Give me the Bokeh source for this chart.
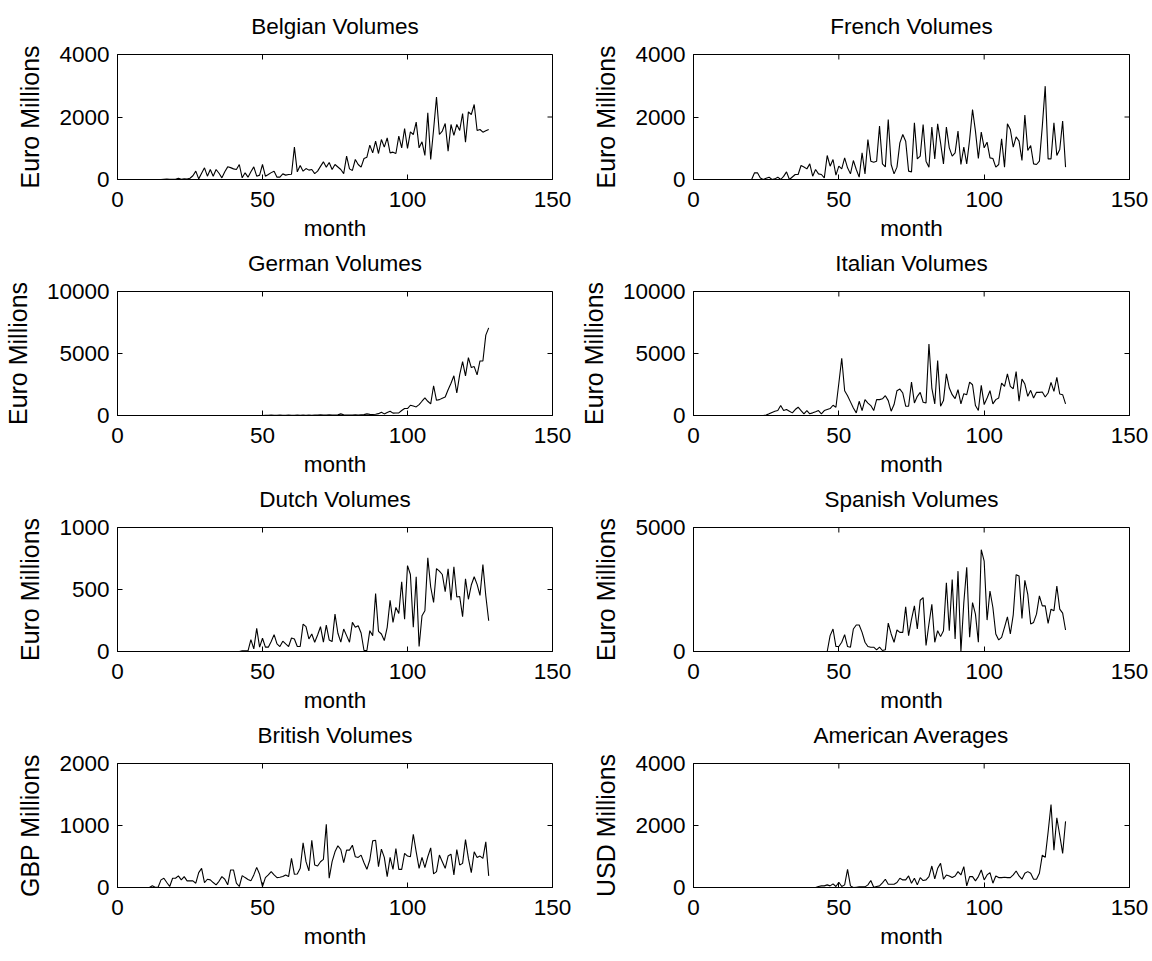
import math
from bokeh.plotting import figure
from bokeh.layouts import gridplot
from bokeh.models import Range1d, FixedTicker, LinearAxis
from bokeh.embed import file_html
from bokeh.resources import INLINE

# ---------------- data (monthly values, months 1..128) ----------------
belgian = [0,0,0,0,0,0,0,0,0,0,
           0,0,0,0,0,10,15,10,5,10,
           40,5,20,15,40,120,267,20,200,373,
           107,320,107,320,200,53,250,405,380,340,
           320,480,53,213,75,250,405,107,140,480,
           107,160,220,267,75,75,180,140,160,170,
           1035,245,448,267,350,300,320,190,267,420,
           565,395,545,320,480,400,320,190,747,340,
           290,640,480,395,672,715,1100,853,1227,832,
           1280,1035,1333,853,875,832,1387,1013,1632,995,
           1525,1440,1835,1013,1205,768,2133,640,1600,2635,
           1440,1550,1792,907,1760,1410,1760,1570,2112,1195,
           2165,2080,2400,1568,1600,1515,1560,1600]

french = [0,0,0,0,0,0,0,0,0,0,
          0,0,0,0,0,0,0,0,0,0,
          213,213,50,0,40,75,0,20,75,0,
          100,245,0,80,160,160,448,400,340,500,
          107,320,180,160,53,768,427,640,140,427,
          340,693,373,180,608,320,75,853,180,1280,
          587,555,587,1707,500,405,1920,480,180,395,
          1173,1440,1227,267,245,1813,660,747,1760,587,
          395,1675,660,1780,1173,500,1675,1013,747,853,
          1547,480,1035,500,1280,2240,1547,672,1515,1013,
          1195,693,672,395,480,1300,395,1780,1600,1035,
          1365,1227,608,2060,928,1088,500,480,587,1700,
          2987,660,660,1813,768,960,1867,395]

german = [0,0,0,0,0,0,0,0,0,0,
          0,0,0,0,0,0,0,0,0,0,
          0,0,0,0,0,0,0,0,0,0,
          0,0,0,0,0,0,0,0,0,0,
          0,0,0,0,0,0,0,0,0,0,
          20,10,30,10,20,30,15,10,30,20,
          15,40,20,30,25,40,20,30,30,50,
          30,40,60,30,40,50,130,60,40,30,
          40,50,40,60,70,130,90,80,100,150,
          267,130,250,347,190,200,213,400,560,560,
          827,760,693,880,1150,1413,1147,933,2400,1227,
          1280,1400,1493,2080,2600,3200,1813,3300,4347,3200,
          4667,3867,3947,3280,4400,4400,6480,7067]

italian = [0,0,0,0,0,0,0,0,0,0,
           0,0,0,0,0,0,0,0,0,0,
           0,0,0,0,30,133,250,347,400,800,
           400,480,347,213,480,667,400,133,400,133,
           213,300,400,133,400,480,560,827,667,2600,
           4613,2000,1600,1100,600,213,1147,400,1280,1000,
           800,400,1280,1280,1350,1600,1200,347,880,2000,
           2133,1813,747,747,2693,1013,1547,1867,1067,1013,
           5760,2213,933,4427,747,1200,3360,2213,1680,1360,
           2080,933,1760,1680,2693,2480,800,400,2427,880,
           1413,2000,933,1280,1413,2613,2347,3360,2347,2160,
           3547,1147,2933,2533,1547,2027,1413,1867,1867,1893,
           1493,1813,2667,1947,3067,1733,1680,933]

dutch = [0,0,0,0,0,0,0,0,0,0,
         0,0,0,0,0,0,0,0,0,0,
         0,0,0,0,0,0,0,0,0,0,
         0,0,0,0,0,0,0,0,0,0,
         0,0,5,5,5,96,21,187,35,107,
         35,35,80,136,61,40,83,61,40,109,
         101,40,40,221,200,101,141,75,133,200,
         75,213,93,80,301,147,75,181,128,75,
         235,195,208,149,8,8,168,128,467,163,
         141,88,195,413,235,355,307,563,261,693,
         621,195,603,40,288,328,755,520,395,669,
         648,621,483,667,413,683,440,443,280,587,
         421,536,603,541,453,701,450,248]

spanish = [0,0,0,0,0,0,0,0,0,0,
           0,0,0,0,0,0,0,0,0,0,
           0,0,0,0,0,0,0,0,0,0,
           0,0,0,0,0,0,0,0,0,0,
           0,0,0,0,0,0,640,907,200,200,
           373,680,200,173,907,1067,1067,773,373,200,
           173,173,67,173,40,67,1147,707,373,867,
           773,773,1800,640,1300,1840,907,2067,2173,240,
           1107,1907,373,840,600,840,2773,840,2907,507,
           3240,0,1973,3400,573,1973,1507,373,4107,3640,
           1267,2440,1773,707,467,573,973,1400,707,1480,
           3100,3040,1333,2867,2307,1107,1173,1507,2240,1840,
           1840,1133,1707,1640,2640,1707,1547,867]

british = [0,0,0,0,0,0,0,0,0,0,
           0,27,5,5,123,149,80,16,149,149,
           187,123,176,107,107,107,69,240,309,80,
           133,123,80,43,100,176,133,43,283,283,
           69,16,192,160,130,107,203,325,213,16,
           160,203,256,203,160,165,176,203,176,469,
           213,219,309,720,416,267,763,363,347,416,
           453,1019,149,416,576,672,613,400,603,603,
           683,496,485,523,400,293,443,752,763,336,
           619,485,176,485,293,629,293,293,549,507,
           496,859,576,309,485,320,496,640,219,256,
           523,416,309,507,539,203,613,363,389,773,
           469,240,576,485,507,469,736,187]

american = [0,0,0,0,0,0,0,0,0,0,
            0,0,0,0,0,0,0,0,0,0,
            0,0,0,0,0,0,0,0,0,0,
            0,0,0,0,0,0,0,0,0,0,
            0,0,32,53,53,85,53,117,32,170,
            32,85,587,53,0,10,20,20,20,85,
            224,10,32,53,150,267,107,107,107,160,
            299,245,245,373,139,299,85,320,224,245,
            352,693,277,619,779,267,405,373,320,373,
            512,405,672,53,352,352,213,352,565,245,
            405,480,139,373,320,320,331,320,320,405,
            533,373,267,459,512,459,267,267,459,1045,
            971,1792,2677,1205,2251,1685,1099,2133]

titles = ["Belgian Volumes", "French Volumes", "German Volumes", "Italian Volumes",
          "Dutch Volumes", "Spanish Volumes", "British Volumes", "American Averages"]
ylabels = ["Euro Millions"] * 6 + ["GBP Millions", "USD Millions"]
series = [belgian, french, german, italian, dutch, spanish, british, american]
ymaxes = [4000, 4000, 10000, 10000, 1000, 5000, 2000, 4000]
yticks = [[0, 2000, 4000], [0, 2000, 4000], [0, 5000, 10000], [0, 5000, 10000],
          [0, 500, 1000], [0, 5000], [0, 1000, 2000], [0, 2000, 4000]]
xticks = [0, 50, 100, 150]
xmax = 150
xlabel = "month"

FONT = "Liberation Sans"
FS = "22.5px"


def make(i):
    col = i % 2
    rowi = i // 2
    left = 112 if col == 0 else 114
    right = 24 if col == 0 else 23
    top = 54 if rowi == 0 else 43
    bottom = 68
    height = top + 125 + bottom
    p = figure(width=576, height=height, output_backend="svg", toolbar_location=None,
               x_range=Range1d(0, xmax), y_range=Range1d(0, ymaxes[i]),
               min_border_left=left, min_border_right=right,
               min_border_top=top, min_border_bottom=bottom,
               background_fill_color="white", border_fill_color="white")
    vals = series[i]
    p.line(list(range(1, len(vals) + 1)), vals, line_color="black", line_width=1.1)

    # inward tick marks on the top and right edges (box style); half of each
    # centred marker is clipped by the frame, leaving a short inward tick
    p.scatter(xticks, [ymaxes[i]] * len(xticks), marker="dash", size=10,
              angle=math.pi / 2, line_color="black", line_width=1)
    p.scatter([xmax] * len(yticks[i]), yticks[i], marker="dash", size=10,
              line_color="black", line_width=1)

    p.outline_line_color = "black"
    p.outline_line_width = 1
    p.outline_line_alpha = 1
    p.xgrid.visible = False
    p.ygrid.visible = False

    xa = p.below[0]
    ya = p.left[0]
    for ax in (xa, ya):
        ax.axis_line_color = "black"
        ax.major_tick_line_color = "black"
        ax.major_tick_in = 5
        ax.major_tick_out = 0
        ax.minor_tick_line_color = None
        ax.major_label_text_font = FONT
        ax.major_label_text_font_size = FS
        ax.major_label_text_color = "black"
        ax.axis_label_text_font = FONT
        ax.axis_label_text_font_style = "normal"
        ax.axis_label_text_color = "black"

    xa.ticker = FixedTicker(ticks=xticks)
    xa.axis_label = xlabel
    xa.axis_label_text_font_size = FS
    xa.major_label_standoff = 12
    xa.axis_label_standoff = 6

    ya.ticker = FixedTicker(ticks=yticks[i])
    ya.axis_label = ylabels[i]
    ya.axis_label_text_font_size = "25px"
    ya.major_label_standoff = 8
    ya.axis_label_standoff = 12

    # subplot title: the label of a tick-less axis along the top edge
    ttl = LinearAxis(ticker=FixedTicker(ticks=[]), axis_label=titles[i])
    ttl.axis_line_color = None
    ttl.major_tick_line_color = None
    ttl.minor_tick_line_color = None
    ttl.major_tick_in = 0
    ttl.major_tick_out = 0
    ttl.major_label_standoff = 0
    ttl.axis_label_standoff = 16
    ttl.axis_label_text_font = FONT
    ttl.axis_label_text_font_size = FS
    ttl.axis_label_text_font_style = "normal"
    ttl.axis_label_text_color = "black"
    p.add_layout(ttl, "above")
    return p


figs = [make(i) for i in range(8)]
grid = gridplot([[figs[0], figs[1]], [figs[2], figs[3]], [figs[4], figs[5]], [figs[6], figs[7]]],
                toolbar_location=None)

open("out.html", "w").write(file_html(grid, INLINE))
